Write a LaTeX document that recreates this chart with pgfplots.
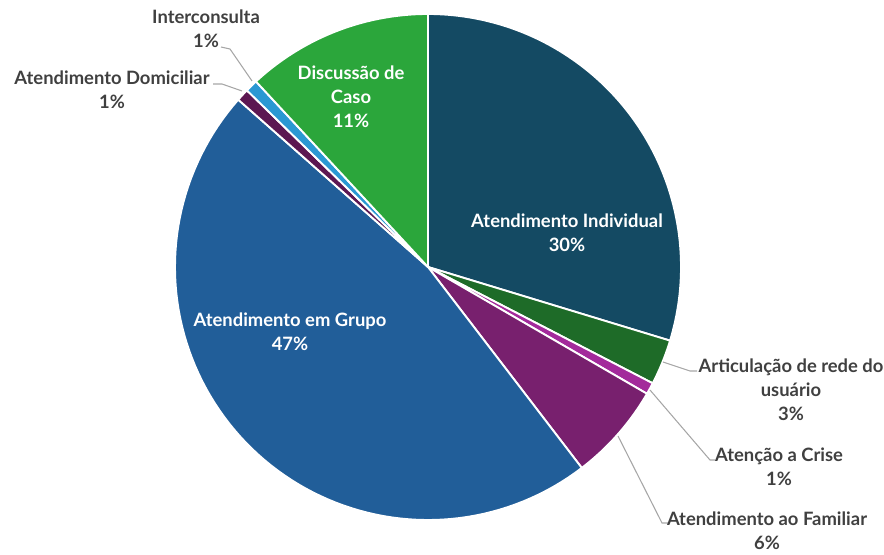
\documentclass[border=0pt]{standalone}
\usepackage{fontspec}
\setmainfont{Lato}
\usepackage{pgfplots}
\usepackage{pgfplotstable}
\pgfplotsset{compat=1.18}
\definecolor{cInd}{HTML}{144A63}
\definecolor{cArt}{HTML}{1E6B28}
\definecolor{cCri}{HTML}{A32A9B}
\definecolor{cFam}{HTML}{78206E}
\definecolor{cGru}{HTML}{215E99}
\definecolor{cDom}{HTML}{5C1752}
\definecolor{cInt}{HTML}{2A98D3}
\definecolor{cDis}{HTML}{2BA63B}
\definecolor{ctxt}{HTML}{404040}
\definecolor{cline}{HTML}{A6A6A6}
\pgfplotstableread{
value color
29.7 cInd
2.9 cArt
0.75 cCri
6.25 cFam
46.9 cGru
0.8 cDom
0.8 cInt
11.9 cDis
}\piedata
\begin{document}
\begin{tikzpicture}
\useasboundingbox (0,0) rectangle (663pt,415.5pt);
\begin{axis}[x=0.75pt,y=0.75pt,xmin=0,xmax=884,ymin=0,ymax=554,hide axis,clip=false,
  anchor=origin, at={(0,0)}]
\def\cum{0}
\pgfplotsforeachungrouped \i in {0,...,7}{%
  \pgfplotstablegetelem{\i}{value}\of\piedata \let\v\pgfplotsretval
  \pgfplotstablegetelem{\i}{color}\of\piedata \let\c\pgfplotsretval
  \pgfmathsetmacro\aS{90-3.6*\cum}%
  \pgfmathsetmacro\aE{90-3.6*(\cum+\v)}%
  \edef\tmp{\noexpand\addplot[fill=\c, draw=white, line width=1.4pt, line join=round, domain=\aE:\aS, samples=90] ({428+253*cos(x)},{287+253*sin(x)}) -- (axis cs:428,287) -- cycle;}%
  \tmp
  \pgfmathsetmacro\cum{\cum+\v}%
}
% leader lines
\draw[cline, line width=0.8pt] (axis cs:663,192) -- (axis cs:690,183) -- (axis cs:697,183);
\draw[cline, line width=0.8pt] (axis cs:650,164) -- (axis cs:710,94) -- (axis cs:715,94);
\draw[cline, line width=0.8pt] (axis cs:618,118) -- (axis cs:662,31) -- (axis cs:668,31);
\draw[cline, line width=0.8pt] (axis cs:252,473) -- (axis cs:230,505) -- (axis cs:221,507);
\draw[cline, line width=0.8pt] (axis cs:242,463) -- (axis cs:222,470) -- (axis cs:213,470);
% labels
\tikzset{lab/.style={font=\fontsize{13.8}{18}\selectfont\bfseries, align=center, inner sep=0pt}}
\node[lab, text=white] at (axis cs:567,321) {Atendimento Individual\\30\%};
\node[lab, text=white] at (axis cs:290,222) {Atendimento em Grupo\\47\%};
\node[lab, text=white] at (axis cs:351,457) {Discussão de\\Caso\\11\%};
\node[lab, text=ctxt] at (axis cs:206,525) {Interconsulta\\1\%};
\node[lab, text=ctxt] at (axis cs:112,464) {Atendimento Domiciliar\\1\%};
\node[lab, text=ctxt] at (axis cs:791,164) {Articulação de rede do\\usuário\\3\%};
\node[lab, text=ctxt] at (axis cs:779,87) {Atenção a Crise\\1\%};
\node[lab, text=ctxt] at (axis cs:767,23) {Atendimento ao Familiar\\6\%};
\end{axis}
\end{tikzpicture}
\end{document}
